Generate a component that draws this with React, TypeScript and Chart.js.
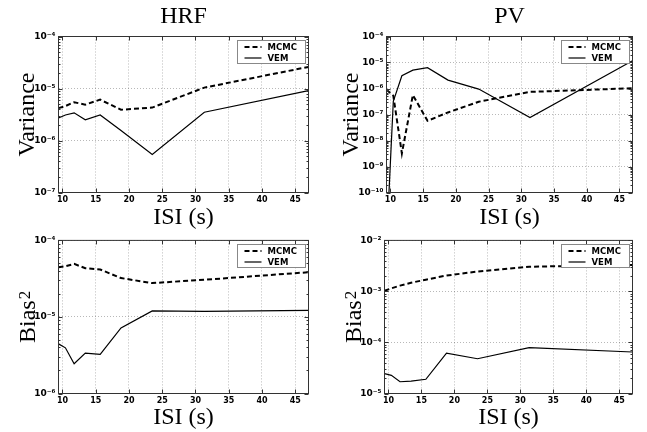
import React, { useEffect, useRef } from "react";
import { Chart, registerables } from "chart.js";
Chart.register(...registerables);

// ---------- data ----------
const ISI = [9.4, 10.44, 11.75, 13.43, 15.67, 18.8, 23.5, 31.33, 47];
const X_TICKS = [10, 15, 20, 25, 30, 35, 40, 45];
const SERIES_LABELS = ["MCMC", "VEM"];
const COLUMN_TITLES = ["HRF", "PV"];
const X_TITLE = "ISI (s)";
const Y_TITLE_BASES = ["Variance", "Bias"];
const Y_TITLE_SUPS = ["", "2"];

const HRF_VAR_MCMC = [4.2e-6, 4.6e-6, 5.45e-6, 4.9e-6, 6.1e-6, 3.9e-6, 4.3e-6, 1.04e-5, 2.6e-5];
const HRF_VAR_VEM = [2.7e-6, 3.1e-6, 3.4e-6, 2.5e-6, 3.1e-6, 1.55e-6, 5.4e-7, 3.5e-6, 9.1e-6];
const PV_VAR_MCMC = [9e-7, 5.3e-7, 3.2e-9, 5.6e-7, 5.7e-8, 1.2e-7, 3.1e-7, 7.4e-7, 1.02e-6];
const PV_VAR_VEM = [1e-12, 3.2e-7, 3.1e-6, 5.1e-6, 6.3e-6, 2.1e-6, 9.5e-7, 7.6e-8, 1.17e-5];
const HRF_BIAS_MCMC = [4.45e-5, 4.6e-5, 4.93e-5, 4.33e-5, 4.17e-5, 3.22e-5, 2.77e-5, 3.06e-5, 3.84e-5];
const HRF_BIAS_VEM = [4.45e-6, 3.95e-6, 2.45e-6, 3.37e-6, 3.25e-6, 7.2e-6, 1.2e-5, 1.18e-5, 1.22e-5];
const PV_BIAS_MCMC = [1.03e-3, 1.15e-3, 1.3e-3, 1.48e-3, 1.7e-3, 2.05e-3, 2.45e-3, 3.05e-3, 3.3e-3];
const PV_BIAS_VEM = [2.45e-5, 2.27e-5, 1.7e-5, 1.75e-5, 1.9e-5, 6.2e-5, 4.8e-5, 7.9e-5, 6.5e-5];

// ---------- styling ----------
const SERIF = "'Liberation Serif', 'Times New Roman', serif";
const SANS = "'DejaVu Sans', sans-serif";
const GRID = "rgba(0,0,0,0.28)";
const FRAME = "#333";

type Panel = {
  left: number; top: number; width: number; height: number;
  padTop: number; padRight: number; yWidth: number; xHeight: number;
  yTitleX: number; xTitlePad: number;
  yMin: number; yMax: number; yTitleIdx: number;
  mcmc: number[]; vem: number[];
};

const PANELS: Panel[] = [
  { left: 0, top: 0, width: 318, height: 232, padTop: 36.5, padRight: 9.5, yWidth: 58.5, xHeight: 39.5,
    yTitleX: 26, xTitlePad: 2, yMin: 1e-7, yMax: 1e-4, yTitleIdx: 0, mcmc: HRF_VAR_MCMC, vem: HRF_VAR_VEM },
  { left: 323, top: 0, width: 324, height: 232, padTop: 36.5, padRight: 14.5, yWidth: 63.5, xHeight: 39.5,
    yTitleX: 27, xTitlePad: 2, yMin: 1e-10, yMax: 1e-4, yTitleIdx: 0, mcmc: PV_VAR_MCMC, vem: PV_VAR_VEM },
  { left: 0, top: 232, width: 318, height: 200, padTop: 6.5, padRight: 9.5, yWidth: 58.5, xHeight: 38.5,
    yTitleX: 27, xTitlePad: 2, yMin: 1e-6, yMax: 1e-4, yTitleIdx: 1, mcmc: HRF_BIAS_MCMC, vem: HRF_BIAS_VEM },
  { left: 323, top: 232, width: 324, height: 200, padTop: 6.5, padRight: 14.5, yWidth: 61.5, xHeight: 38.5,
    yTitleX: 30, xTitlePad: 2, yMin: 1e-5, yMax: 1e-2, yTitleIdx: 1, mcmc: PV_BIAS_MCMC, vem: PV_BIAS_VEM },
];

function supExp(e: number): string {
  const map: Record<string, string> = {
    "-": "⁻", "0": "⁰", "1": "¹", "2": "²", "3": "³", "4": "⁴",
    "5": "⁵", "6": "⁶", "7": "⁷", "8": "⁸", "9": "⁹",
  };
  return String(e).split("").map((c) => map[c] || c).join("");
}

const framePlugin = {
  id: "frame",
  afterDatasetsDraw(chart: any) {
    const { ctx, chartArea: a, scales } = chart;
    const x = scales.x, y = scales.y;
    ctx.save();
    ctx.strokeStyle = FRAME;
    ctx.lineWidth = 1;
    ctx.setLineDash([]);
    ctx.strokeRect(a.left, a.top, a.right - a.left, a.bottom - a.top);
    ctx.beginPath();
    for (const v of X_TICKS) {
      const px = Math.round(x.getPixelForValue(v)) + 0.5;
      ctx.moveTo(px, a.bottom); ctx.lineTo(px, a.bottom - 4);
      ctx.moveTo(px, a.top); ctx.lineTo(px, a.top + 4);
    }
    const eMin = Math.round(Math.log10(y.min));
    const eMax = Math.round(Math.log10(y.max));
    for (let e = eMin; e <= eMax; e++) {
      for (let k = 1; k <= 9; k++) {
        const v = k * Math.pow(10, e);
        if (v > y.max * 1.0001) break;
        const py = Math.round(y.getPixelForValue(v)) + 0.5;
        const len = k === 1 ? 4 : 2;
        ctx.moveTo(a.left, py); ctx.lineTo(a.left + len, py);
        ctx.moveTo(a.right, py); ctx.lineTo(a.right - len, py);
      }
    }
    ctx.stroke();
    ctx.restore();
  },
};

const legendBoxPlugin = {
  id: "legendBox",
  afterDraw(chart: any) {
    const { ctx, chartArea: a } = chart;
    const w = 68, h = 23, gap = 3.5;
    const bx = Math.round(a.right - gap - w) + 0.5;
    const by = Math.round(a.top + gap) + 0.5;
    ctx.save();
    ctx.fillStyle = "#fff";
    ctx.fillRect(bx, by, w, h);
    ctx.strokeStyle = "#888";
    ctx.lineWidth = 1;
    ctx.strokeRect(bx, by, w, h);
    chart.data.datasets.forEach((ds: any, i: number) => {
      const cy = by + 6.5 + i * 11;
      ctx.beginPath();
      ctx.strokeStyle = ds.borderColor;
      ctx.lineWidth = ds.borderWidth;
      ctx.setLineDash(ds.borderDash || []);
      ctx.moveTo(bx + 7, cy);
      ctx.lineTo(bx + 24, cy);
      ctx.stroke();
      ctx.setLineDash([]);
      ctx.fillStyle = "#000";
      ctx.font = `bold 8.5px ${SANS}`;
      ctx.textBaseline = "middle";
      ctx.textAlign = "left";
      ctx.fillText(ds.label, bx + 30, cy + 0.5);
    });
    ctx.restore();
  },
};

function makeYTitlePlugin(base: string, sup: string, cx: number) {
  return {
    id: "yTitle",
    afterDraw(chart: any) {
      const { ctx, chartArea: a } = chart;
      const cy = (a.top + a.bottom) / 2;
      ctx.save();
      ctx.translate(cx, cy);
      ctx.rotate(-Math.PI / 2);
      ctx.fillStyle = "#000";
      ctx.textAlign = "left";
      ctx.textBaseline = "alphabetic";
      ctx.font = `24px ${SERIF}`;
      const wb = ctx.measureText(base).width;
      ctx.font = `17px ${SERIF}`;
      const ws = sup ? ctx.measureText(sup).width + 1 : 0;
      const x0 = -(wb + ws) / 2;
      ctx.font = `24px ${SERIF}`;
      ctx.fillText(base, x0, 8);
      if (sup) {
        ctx.font = `17px ${SERIF}`;
        ctx.fillText(sup, x0 + wb + 1, 3);
      }
      ctx.restore();
    },
  };
}

function PanelChart({ p }: { p: Panel }) {
  const ref = useRef<HTMLCanvasElement | null>(null);
  useEffect(() => {
    if (!ref.current) return;
    const decades: number[] = [];
    for (let e = Math.round(Math.log10(p.yMin)); e <= Math.round(Math.log10(p.yMax)); e++) decades.push(Math.pow(10, e));
    const chart = new Chart(ref.current, {
      type: "line",
      data: {
        datasets: [
          {
            label: SERIES_LABELS[0],
            data: ISI.map((x, i) => ({ x, y: p.mcmc[i] })),
            borderColor: "#000",
            borderWidth: 2,
            borderDash: [5, 3],
            pointRadius: 0,
            fill: false,
            tension: 0,
          },
          {
            label: SERIES_LABELS[1],
            data: ISI.map((x, i) => ({ x, y: p.vem[i] })),
            borderColor: "#000",
            borderWidth: 1.2,
            pointRadius: 0,
            fill: false,
            tension: 0,
          },
        ],
      },
      options: {
        animation: false,
        responsive: false,
        devicePixelRatio: 1,
        layout: { padding: { top: p.padTop, right: p.padRight, left: 0, bottom: 0 } },
        plugins: { legend: { display: false }, tooltip: { enabled: false }, title: { display: false } },
        scales: {
          x: {
            type: "linear",
            min: ISI[0],
            max: ISI[ISI.length - 1],
            afterBuildTicks: (s: any) => { s.ticks = X_TICKS.map((v) => ({ value: v })); },
            afterFit: (s: any) => { s.height = p.xHeight; },
            grid: { color: GRID, lineWidth: 1, drawTicks: false },
            border: { display: false, dash: [1, 2] },
            ticks: {
              autoSkip: false, maxRotation: 0, padding: 3, color: "#000",
              font: { family: SANS, size: 8, weight: "bold" },
              callback: (v: any) => String(v),
            },
            title: {
              display: true, text: X_TITLE, color: "#000",
              font: { family: SERIF, size: 24, lineHeight: 1 },
              padding: { top: 0, bottom: p.xTitlePad },
            },
          },
          y: {
            type: "logarithmic",
            min: p.yMin,
            max: p.yMax,
            afterBuildTicks: (s: any) => { s.ticks = decades.map((v) => ({ value: v })); },
            afterFit: (s: any) => { s.width = p.yWidth; },
            grid: { color: GRID, lineWidth: 1, drawTicks: false },
            border: { display: false, dash: [1, 2] },
            ticks: {
              autoSkip: false, padding: 3, color: "#000",
              font: { family: SANS, size: 9, weight: "bold" },
              callback: (v: any) => "10" + supExp(Math.round(Math.log10(Number(v)))),
            },
            title: { display: false },
          },
        },
      } as any,
      plugins: [framePlugin, legendBoxPlugin, makeYTitlePlugin(Y_TITLE_BASES[p.yTitleIdx], Y_TITLE_SUPS[p.yTitleIdx], p.yTitleX)],
    });
    return () => chart.destroy();
  }, [p]);
  return (
    <canvas
      ref={ref}
      width={p.width}
      height={p.height}
      style={{ position: "absolute", left: p.left, top: p.top, width: p.width, height: p.height }}
    />
  );
}

export default function App() {
  const titleCenters = [183.5, 509.5];
  return (
    <div style={{ position: "fixed", left: 0, top: 0, width: 647, height: 432, background: "#fff", overflow: "hidden" }}>
      {PANELS.map((p, i) => (
        <PanelChart key={i} p={p} />
      ))}
      {COLUMN_TITLES.map((t, i) => (
        <div
          key={t}
          style={{
            position: "absolute", left: titleCenters[i] - 60, width: 120, top: 3, textAlign: "center",
            fontFamily: SERIF, fontSize: 24, lineHeight: "24px", color: "#000", zIndex: 2,
          }}
        >
          {t}
        </div>
      ))}
    </div>
  );
}
